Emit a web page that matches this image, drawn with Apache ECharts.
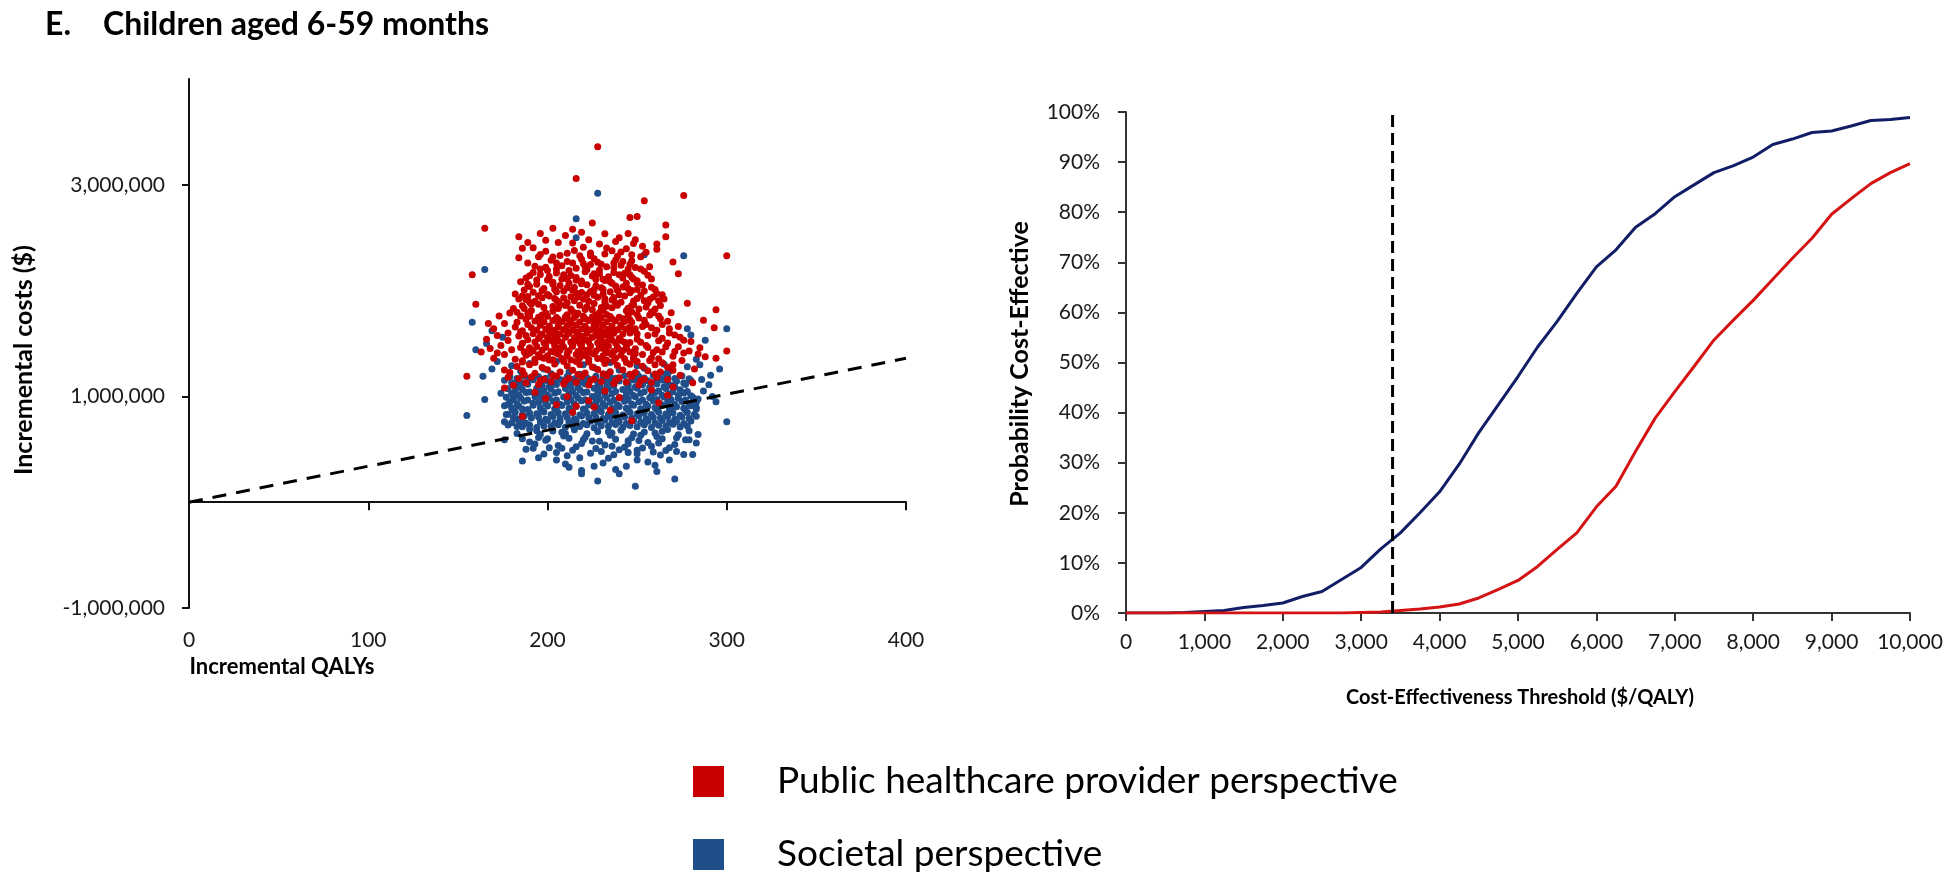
<!DOCTYPE html>
<html><head><meta charset="utf-8">
<script src="https://cdn.jsdelivr.net/npm/echarts@6/dist/echarts.min.js"></script>
<style>html,body{margin:0;padding:0;background:#fff}#c{width:1950px;height:879px}</style>
</head><body><div id="c"></div>
<script>
// ---------- DATA ----------
// Scatter: [incremental QALYs, incremental cost in $ thousands]
const providerPts = [
[193,1352],[198,1361],[203,1347],[208,1358],[213,1344],[218,1366],[223,1351],[228,1359],[233,1342],[238,1362],[243,1355],
[195,1393],[200,1385],[206,1398],[211,1382],[216,1396],[221,1387],[226,1400],[231,1384],[236,1394],[241,1389],
[192,1428],[197,1436],[202,1425],[207,1439],[212,1431],[217,1424],[222,1437],[227,1429],[232,1441],[237,1426],[242,1434],
[194,1472],[199,1465],[204,1478],[209,1468],[214,1475],[219,1462],[224,1477],[229,1469],[234,1473],[239,1466],[244,1479],
[193,1513],[198,1506],[203,1518],[208,1509],[213,1515],[218,1503],[223,1517],[228,1508],[233,1514],[238,1505],[243,1511],
[195,1548],[200,1556],[205,1545],[210,1559],[215,1552],[220,1546],[225,1558],[230,1549],[235,1555],[240,1547],
[192,1592],[197,1587],[202,1597],[207,1589],[212,1594],[217,1585],[222,1598],[227,1591],[232,1586],[237,1596],[242,1590],
[194,1628],[199,1636],[204,1625],[209,1633],[214,1627],[219,1638],[224,1630],[229,1624],[234,1635],[239,1629],[244,1637],
[196,1672],[201,1666],[206,1677],[211,1669],[216,1675],[221,1664],[226,1678],[231,1670],[236,1665],[241,1676],
[193,1713],[198,1706],[203,1718],[208,1709],[213,1715],[218,1704],[223,1717],[228,1711],[233,1705],[238,1716],[243,1708],
[195,1748],[200,1757],[205,1745],[210,1753],[215,1746],[220,1758],[225,1750],[230,1744],[235,1756],[240,1749],
[196,1372],[211,1409],[224,1415],[239,1447],[206,1456],[219,1495],[231,1492],[201,1533],[216,1531],[241,1528],
[196,1570],[228,1570],[211,1614],[236,1612],[201,1650],[221,1652],[246,1655],[213,1690],[229,1693],[196,1692],
[206,1729],[221,1733],[236,1734],[211,1771],[227,1770],[245,1770],[190,1758],[246,1725],
[183,1795],[191,1812],[199,1788],[206,1830],[214,1803],[221,1821],[229,1792],[236,1838],[244,1809],[251,1826],[258,1798],
[186,1856],[195,1871],[203,1849],[211,1884],[218,1862],[226,1879],[233,1853],[241,1890],[248,1866],[256,1882],[263,1859],
[188,1915],[197,1932],[205,1908],[213,1941],[220,1919],[228,1936],[236,1912],[243,1948],[250,1925],[259,1940],
[182,1968],[192,1985],[200,1962],[209,1997],[216,1974],[224,1991],[231,1966],[239,2003],[246,1980],[254,1996],[261,1972],
[190,2038],[198,2021],[207,2049],[215,2030],[222,2056],[230,2027],[238,2044],[245,2019],[253,2052],
[185,2083],[194,2101],[203,2078],[211,2112],[219,2090],[227,2106],[235,2084],[242,2118],[250,2093],[258,2110],
[196,2152],[205,2167],[213,2143],[221,2178],[229,2158],[237,2171],[246,2149],[254,2183],
[199,2221],[208,2236],[216,2212],[224,2247],[233,2226],[241,2240],[249,2218],
[189,2262],[202,2288],[211,2275],[219,2296],[228,2268],[238,2290],[247,2281],
[187,1830],[210,1860],[232,1890],[217,1940],[240,1960],[205,1990],[226,2010],[193,1900],[247,1860],[225,1820],
[212,2070],[234,2130],[200,2190],[222,2200],[244,2070],
[189,1783],[203,1806],[217,1787],[231,1815],[247,1797],[255,1845],[239,1862],[222,1848],[207,1868],[191,1874],
[184,1920],[201,1948],[215,1905],[232,1924],[248,1901],[257,1918],[262,1905],[226,1957],[209,1930],[195,1952],
[187,2005],[204,2012],[219,1983],[235,1990],[250,2010],[258,2031],[242,2035],[227,2043],[211,2028],[194,2061],
[188,2120],[201,2133],[216,2123],[231,2108],[247,2126],[256,2145],[240,2150],[225,2137],[208,2110],[192,2170],
[196,2205],[212,2190],[229,2194],[245,2204],[257,2226],[237,2262],[220,2255],[205,2261],[193,2230],[246,2250],
[203,2318],[218,2329],[232,2345],[247,2339],[226,2301],[211,2352],[199,2372],[236,2376],[255,2362],[220,2410],
[206,2455],[223,2480],[238,2465],[232,2537],[219,2552],[203,2590],[189,2455],[253,2420],[244,2395],[270,2270],
[186,1338],[201,1345],[216,1330],[231,1349],[248,1343],[262,1355],[275,1340],
[190,1408],[204,1417],[219,1404],[234,1412],[249,1405],[259,1415],[271,1425],
[185,1462],[199,1489],[214,1487],[229,1454],[244,1458],[256,1462],[266,1470],
[189,1535],[206,1527],[222,1534],[236,1530],[252,1512],[264,1550],[276,1530],
[188,1575],[204,1572],[219,1568],[234,1573],[250,1590],[260,1590],[271,1580],
[186,1620],[201,1612],[216,1610],[231,1608],[247,1620],[258,1650],[268,1640],
[191,1650],[206,1655],[227,1650],[241,1655],[253,1660],[264,1680],[183,1700],
[196,1725],[211,1737],[226,1728],[242,1735],[254,1720],[262,1760],[185,1760],
[197,1770],[216,1770],[233,1774],[250,1775],[259,1790],[181,1830],[198,1840],
[213,1825],[230,1840],[245,1832],[260,1825],[190,1890],[206,1892],[223,1900],
[238,1880],[254,1905],[265,1920],[189,1945],[204,1925],[222,1960],[237,1935],
[252,1955],[264,1960],[186,1950],[197,2000],[214,2005],[231,2012],[247,2000],
[260,2010],[189,2060],[203,2060],[219,2065],[236,2070],[250,2072],[200,2100],
[216,2098],[232,2095],[248,2110],[190,2140],[209,2150],[226,2160],[243,2165],
[205,2205],[221,2225],[237,2215],[252,2205],[214,2262],[230,2250],[242,2275],
[195,2320],[224,2330],[239,2325],
[184,2310],[196,2342],[207,2331],[215,2380],[224,2355],[233,2402],[241,2366],[252,2320],[261,2390],[266,2510],
[266,2620],[248,2445],[249,2480],[245,2540],[246,2690],[250,2700],[192,2405],[199,2476],[210,2520],[214,2450],
[225,2640],[214,2580],[229,2440],[196,2540],[184,2510],[186,2400],[240,2500],[261,2440],
[228,3360],[216,3060],[276,2900],[254,2850],[165,2590],[300,2330],[158,2150],[155,1190],[294,1820],[300,1430],
[160,1870],[273,2160],[278,1880],[287,1720],[293,1650],[294,1360],[282,1260],[281,1130],
[181,1105],[188,1128],[195,1112],[202,1139],[209,1118],[216,1133],[223,1108],[230,1142],[237,1121],[244,1137],[251,1110],[258,1131],
[184,1168],[191,1183],[198,1161],[205,1190],[212,1172],[219,1187],[226,1165],[233,1194],[240,1176],[247,1189],[254,1163],[261,1181],
[179,1225],[186,1242],[193,1218],[200,1251],[207,1230],[214,1246],[221,1221],[228,1255],[235,1234],[242,1249],[249,1226],[256,1243],[263,1230],[270,1247],
[183,1282],[190,1299],[197,1274],[204,1307],[211,1288],[218,1302],[225,1279],[232,1311],[239,1292],[246,1305],[253,1284],[260,1298],[267,1276],
[186,1326],[250,1330],[257,1340],[264,1318],
[187,1207],[203,1200],[217,1206],[231,1213],[246,1210],[260,1212],[196,1150],[210,1148],[224,1150],[238,1152],
[252,1147],[267,1160],[193,1320],[209,1330],[223,1325],[237,1334],[244,1320],[270,1300],[274,1200],[176,1250],[178,1180],
[170,1360],[176,1395],[182,1352],[187,1421],[168,1452],[174,1480],[180,1440],[186,1502],[166,1540],[172,1575],
[178,1528],[185,1610],[170,1640],[176,1690],[182,1655],[188,1730],[173,1760],[179,1788],[163,1420],[167,1690],
[172,1410],[178,1600],[184,1570],[188,1390],[189,1680],[190,1460],[190,1770],
[248,1370],[253,1395],[258,1362],[264,1420],[270,1380],[276,1410],[249,1450],[255,1482],[261,1440],[267,1505],
[273,1470],[279,1430],[250,1540],[256,1575],[262,1525],[268,1600],[274,1560],[280,1520],[249,1640],[255,1680],
[261,1625],[267,1710],[273,1660],[251,1740],[257,1770],[263,1735],[269,1790],[284,1400],[285,1460],[288,1375],
[246,1600],[247,1700],[246,1420],[246,1510],
[205,920],[216,910],[226,900],[235,870],[186,810],[247,770],[193,1040],[211,1000],[240,990],[258,1060],
[267,1010],[223,960],[199,980],[232,1050],[176,1080],[270,1090],[214,850],[262,940]
];
const societalPts = [
[186,712],[194,705],[202,718],[210,709],[218,715],[226,703],[234,717],[242,708],[250,714],[258,706],[266,719],[274,711],
[180,752],[188,746],[196,757],[204,749],[212,755],[220,744],[228,758],[236,750],[244,745],[252,756],[260,748],[268,754],[276,743],
[183,788],[191,796],[199,785],[207,793],[215,787],[223,798],[231,790],[239,784],[247,795],[255,789],[263,797],[271,786],[279,792],
[178,832],[186,826],[194,837],[202,829],[210,835],[218,824],[226,838],[234,830],[242,825],[250,836],[258,828],[266,834],[274,823],[282,831],
[181,868],[189,876],[197,865],[205,873],[213,867],[221,878],[229,870],[237,864],[245,875],[253,869],[261,877],[269,866],[277,872],
[176,912],[184,906],[192,917],[200,909],[208,915],[216,904],[224,918],[232,910],[240,905],[248,916],[256,908],[264,914],[272,903],[280,911],
[179,948],[187,956],[195,945],[203,953],[211,947],[219,958],[227,950],[235,944],[243,955],[251,949],[259,957],[267,946],[275,952],[283,944],
[177,992],[185,986],[193,997],[201,989],[209,995],[217,984],[225,998],[233,990],[241,985],[249,996],[257,988],[265,994],[273,983],[281,991],
[180,1028],[188,1036],[196,1025],[204,1033],[212,1027],[220,1038],[228,1030],[236,1024],[244,1035],[252,1029],[260,1037],[268,1026],[276,1032],
[178,1072],[186,1066],[194,1077],[202,1069],[210,1075],[218,1064],[226,1078],[234,1070],[242,1065],[250,1076],[258,1068],[266,1074],[274,1063],
[181,1108],[189,1116],[197,1105],[205,1113],[213,1107],[221,1118],[229,1110],[237,1104],[245,1115],[253,1109],[261,1117],[269,1106],[277,1112],
[176,1152],[184,1146],[192,1157],[200,1149],[208,1155],[216,1144],[224,1158],[232,1150],[240,1145],[248,1156],[256,1148],[264,1154],[272,1143],[280,1151],
[179,1188],[187,1196],[195,1185],[203,1193],[211,1187],[219,1198],[227,1190],[235,1184],[243,1195],[251,1189],[259,1197],[267,1186],[275,1192],
[190,729],[206,733],[222,731],[238,735],[254,732],[270,737],[184,770],[200,772],[216,768],[232,775],[248,770],[264,773],[280,767],
[187,812],[203,811],[219,815],[235,808],[251,814],[267,810],[283,812],[182,851],[198,853],[214,848],[230,855],[246,850],[262,852],[278,849],
[180,890],[196,893],[212,888],[228,894],[244,889],[260,892],[276,887],[183,930],[199,932],[215,927],[231,934],[247,929],[263,931],[279,926],
[181,970],[197,972],[213,967],[229,973],[245,968],[261,971],[277,966],[184,1010],[200,1013],[216,1008],[232,1014],[248,1009],[264,1012],[280,1007],
[182,1050],[198,1052],[214,1047],[230,1053],[246,1048],[262,1051],[278,1046],[185,1090],[201,1092],[217,1087],[233,1093],[249,1088],[265,1091],
[180,1130],[196,1132],[212,1127],[228,1133],[244,1128],[260,1131],[276,1126],[183,1170],[199,1172],[215,1167],[231,1173],[247,1168],[263,1171],[279,1166],
[186,1212],[202,1215],[218,1210],[234,1216],[250,1211],[266,1214],
[183,715],[198,720],[214,725],[230,722],[246,726],[262,728],[278,720],
[186,760],[207,762],[224,765],[240,760],[256,764],[272,762],
[181,800],[195,805],[211,800],[227,803],[243,806],[259,802],[275,805],
[190,842],[206,845],[222,842],[238,846],[254,843],[270,845],
[186,882],[204,884],[220,882],[236,885],[252,883],[268,886],[283,895],
[178,925],[192,935],[207,925],[223,926],[239,922],[255,926],[271,925],
[189,965],[205,965],[221,968],[237,964],[253,966],[269,970],[284,975],
[181,1000],[196,1008],[212,1003],[228,1006],[244,1001],[258,1005],[273,1008],
[190,1042],[206,1045],[222,1042],[238,1046],[254,1043],[270,1045],
[183,1090],[197,1085],[213,1093],[229,1087],[245,1094],[257,1086],[271,1090],
[187,1130],[203,1128],[219,1136],[235,1131],[251,1136],[267,1128],
[190,1170],[206,1168],[222,1176],[238,1172],[254,1174],[271,1170],
[194,675],[210,650],[236,655],[252,632],[264,670],[200,600],[220,590],[245,580],[262,560],[208,510],[236,530],[250,490],
[190,690],[203,672],[215,685],[228,668],[241,680],[254,664],[267,688],[279,676],[196,640],[209,625],
[222,648],[235,632],[248,645],[261,620],[273,638],[186,600],[199,585],[212,604],[225,578],[238,596],
[251,582],[264,600],[277,590],[193,550],[206,535],[219,556],[232,540],[245,552],[258,528],[271,545],
[283,560],[188,500],[201,515],[214,490],[227,508],[240,495],[253,512],[266,488],[198,455],[211,440],
[224,462],[237,448],[250,458],[263,445],[276,452],[192,510],[176,590],[178,730],[205,400],[186,390],
[218,420],[231,370],[244,340],[260,350],[238,310],[219,300],[228,200],[249,150],[271,220],[219,270],
[256,380],[281,450],[261,290],
[183,650],[195,612],[208,660],[221,615],[234,665],[247,610],[260,655],[272,610],[284,640],[190,570],
[216,525],[229,575],[243,520],[256,565],[268,515],[279,590],[205,470],[230,480],[245,470],[259,475],
[272,480],[195,420],[234,415],[210,360],[226,340],[250,400],[268,400],[240,270],[212,330],
[228,2920],[216,2680],[216,2500],[276,2330],[254,2340],[165,2200],[158,1700],[160,1440],[300,1640],[155,820],
[300,760],[165,970],[164,1190],[174,1030],[294,950],[292,1000],[296,1260],[291,1200],[286,1160],[169,1260],
[172,1330],[166,1500],[175,1560],[169,1620],[285,1300],[283,1350],[280,1580],[288,1530],[278,1640],[290,1110],
[176,760],[177,830],[283,880],[287,1050],
[185,1240],[198,1260],[212,1230],[226,1270],[240,1250],[254,1265],[268,1235],[190,1310],[205,1330],[220,1300],
[235,1320],[250,1290],[265,1305],[278,1280],[180,1290]
];
// Willingness-to-pay line on the cost-effectiveness plane (QALYs, $)
const wtpLine = [[0, 0], [400, 1360000]];
// Acceptability curve
const thresholds = [0,250,500,750,1000,1250,1500,1750,2000,2250,2500,2750,3000,3250,3500,3750,4000,4250,4500,4750,5000,
  5250,5500,5750,6000,6250,6500,6750,7000,7250,7500,7750,8000,8250,8500,8750,9000,9250,9500,9750,10000];
const probSocietal = [0,0,0,0.1,0.3,0.5,1.1,1.5,2.0,3.3,4.3,6.7,9.1,12.8,16.0,20.0,24.2,29.7,36.0,41.6,47.2,
  53.1,58.2,63.8,69.1,72.5,77.0,79.7,83.1,85.5,87.9,89.3,91.0,93.5,94.6,95.9,96.2,97.2,98.3,98.5,98.9];
const probProvider = [0,0,0,0,0,0,0,0,0,0,0,0,0.1,0.2,0.5,0.8,1.2,1.8,3.0,4.7,6.5,
  9.3,12.7,16.0,21.2,25.3,32.3,38.9,44.2,49.3,54.5,58.5,62.4,66.6,70.8,74.8,79.6,82.7,85.7,87.9,89.7];
const thresholdWTP = 3400;
const leftYTicks = [-1000000, 1000000, 3000000];
const seriesNames = ['Public healthcare provider perspective', 'Societal perspective'];

// ---------- CHART ----------
const FONT = 'Lato';
const RED = '#C80000', BLUE = '#1F4E8A', NAVY = '#111E66', RED_LINE = '#D41414';
const fmt = v => Number(v).toLocaleString('en-US');
const chart = echarts.init(document.getElementById('c'), null, {renderer: 'canvas'});
const axisLineStyle = {color: '#111', width: 2};
const labelStyle = {fontFamily: FONT, fontSize: 21, color: '#1a1a1a'};
const legendText = {fontFamily: FONT, fontSize: 37, color: '#000', lineHeight: 36, padding: [0, 0, 0, 48]};

chart.setOption({
  animation: false,
  backgroundColor: '#fff',
  title: [
    {text: 'E.', left: 45, top: 9, padding: 0, textStyle: {fontFamily: FONT, fontWeight: 'bold', fontSize: 32, color: '#000'}},
    {text: 'Children aged 6-59 months', left: 103, top: 9, padding: 0, textStyle: {fontFamily: FONT, fontWeight: 'bold', fontSize: 32, color: '#000'}}
  ],
  grid: [
    {left: 189, right: 1044, top: 79, bottom: 271, outerBoundsMode: 'none'},
    {left: 1126, right: 40, top: 112, bottom: 266, outerBoundsMode: 'none'}
  ],
  xAxis: [
    {type: 'value', gridIndex: 0, min: 0, max: 400, interval: 100,
     axisLine: {onZero: true, lineStyle: axisLineStyle},
     axisTick: {show: true, length: 8, lineStyle: {color: '#111', width: 2}},
     axisLabel: Object.assign({margin: 22}, labelStyle),
     splitLine: {show: false}},
    {type: 'value', gridIndex: 1, min: 0, max: 10000, interval: 1000,
     axisLine: {onZero: false, lineStyle: {color: '#333', width: 2}},
     axisTick: {show: true, length: 8, lineStyle: {color: '#333', width: 2}},
     axisLabel: Object.assign({margin: 19, formatter: fmt}, labelStyle),
     splitLine: {show: false}}
  ],
  yAxis: [
    {type: 'value', gridIndex: 0, min: -1000000, max: 4000000,
     axisLine: {show: true, onZero: false, lineStyle: axisLineStyle},
     axisTick: {show: true, length: 7, customValues: leftYTicks, lineStyle: {color: '#111', width: 2}},
     axisLabel: Object.assign({margin: 24, customValues: leftYTicks, formatter: fmt}, labelStyle),
     splitLine: {show: false}},
    {type: 'value', gridIndex: 1, min: 0, max: 100, interval: 10,
     axisLine: {show: true, onZero: false, lineStyle: {color: '#333', width: 2}},
     axisTick: {show: true, length: 8, lineStyle: {color: '#333', width: 2}},
     axisLabel: Object.assign({margin: 26, formatter: '{value}%'}, labelStyle),
     splitLine: {show: false}}
  ],
  legend: [
    {data: [{name: seriesNames[0], icon: 'rect'}], left: 693, top: 763, padding: 0,
     itemWidth: 31, itemHeight: 31, selectedMode: false, textStyle: legendText},
    {data: [{name: seriesNames[1], icon: 'rect'}], left: 693, top: 836, padding: 0,
     itemWidth: 31, itemHeight: 31, selectedMode: false, textStyle: legendText}
  ],
  series: [
    {name: seriesNames[1], type: 'scatter', xAxisIndex: 0, yAxisIndex: 0, symbolSize: 7,
     itemStyle: {color: BLUE, opacity: 1}, data: societalPts.map(p => [p[0], p[1] * 1000])},
    {name: seriesNames[0], type: 'scatter', xAxisIndex: 0, yAxisIndex: 0, symbolSize: 7,
     itemStyle: {color: RED, opacity: 1}, data: providerPts.map(p => [p[0], p[1] * 1000])},
    {type: 'line', xAxisIndex: 0, yAxisIndex: 0, showSymbol: false, symbol: 'none',
     lineStyle: {color: '#000', width: 3, type: [14, 10]}, data: wtpLine},
    {name: seriesNames[1], type: 'line', xAxisIndex: 1, yAxisIndex: 1, showSymbol: false, symbol: 'none',
     itemStyle: {color: BLUE}, lineStyle: {color: NAVY, width: 3},
     data: thresholds.map((t, i) => [t, probSocietal[i]])},
    {name: seriesNames[0], type: 'line', xAxisIndex: 1, yAxisIndex: 1, showSymbol: false, symbol: 'none',
     itemStyle: {color: RED}, lineStyle: {color: RED_LINE, width: 3},
     data: thresholds.map((t, i) => [t, probProvider[i]])},
    {type: 'line', xAxisIndex: 1, yAxisIndex: 1, showSymbol: false, symbol: 'none',
     lineStyle: {color: '#000', width: 3, type: [12, 6]},
     data: [[thresholdWTP, 0], [thresholdWTP, 100]]}
  ],
  graphic: [
    {type: 'text', x: 282, y: 667, style: {text: 'Incremental QALYs', fontFamily: FONT, fontWeight: 'bold', fontSize: 22, fill: '#000', align: 'center', verticalAlign: 'middle'}},
    {type: 'text', x: 24, y: 360, rotation: Math.PI / 2, style: {text: 'Incremental costs ($)', fontFamily: FONT, fontWeight: 'bold', fontSize: 25, fill: '#000', align: 'center', verticalAlign: 'middle'}},
    {type: 'text', x: 1020, y: 364, rotation: Math.PI / 2, style: {text: 'Probability Cost-Effective', fontFamily: FONT, fontWeight: 'bold', fontSize: 25, fill: '#000', align: 'center', verticalAlign: 'middle'}},
    {type: 'text', x: 1520, y: 698, style: {text: 'Cost-Effectiveness Threshold ($/QALY)', fontFamily: FONT, fontWeight: 'bold', fontSize: 20, fill: '#000', align: 'center', verticalAlign: 'middle'}}
  ]
});
</script></body></html>
